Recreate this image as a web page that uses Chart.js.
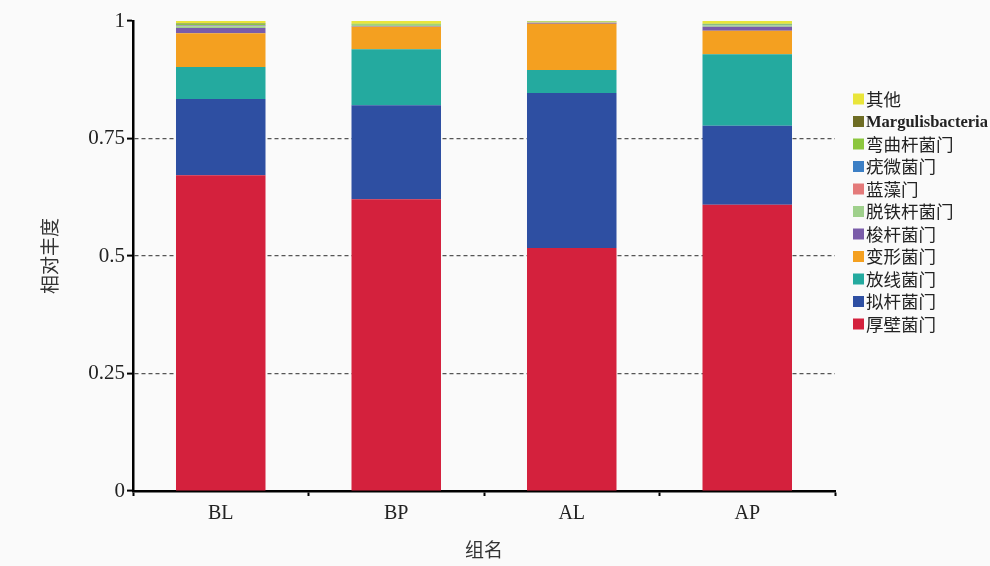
<!DOCTYPE html>
<html>
<head>
<meta charset="utf-8">
<script src="https://cdn.jsdelivr.net/npm/chart.js@4/dist/chart.umd.min.js"></script>
<style>
  html, body { margin: 0; padding: 0; background: #fafafa; }
  #wrap { width: 990px; height: 566px; position: relative; }
</style>
</head>
<body>
<div id="wrap"><canvas id="c" width="990" height="566"></canvas></div>
<script>
// Groups on the x axis
const groups = ['BL', 'BP', 'AL', 'AP'];

// Relative abundance of each phylum per group (stacked bottom to top)
const houbi      = [0.672, 0.621, 0.517, 0.609]; // 厚壁菌门
const nigan      = [0.162, 0.200, 0.330, 0.168]; // 拟杆菌门
const fangxian   = [0.068, 0.119, 0.049, 0.152]; // 放线菌门
const bianxing   = [0.072, 0.048, 0.098, 0.050]; // 变形菌门
const suogan     = [0.011, 0.001, 0.002, 0.009]; // 梭杆菌门
const tuotie     = [0.004, 0.003, 0.001, 0.003]; // 脱铁杆菌门
const lanzao     = [0.001, 0.000, 0.001, 0.000]; // 蓝藻门
const youwei     = [0.001, 0.000, 0.000, 0.001]; // 疣微菌门
const wanqu      = [0.003, 0.002, 0.001, 0.002]; // 弯曲杆菌门
const margulis   = [0.001, 0.000, 0.000, 0.000]; // Margulisbacteria
const qita       = [0.005, 0.006, 0.001, 0.006]; // 其他

// Y axis tick labels
const yTickLabels = { 0: '0', 0.25: '0.25', 0.5: '0.5', 0.75: '0.75', 1: '1' };

const series = [
  { label: '厚壁菌门', data: houbi,    color: '#d4213d' },
  { label: '拟杆菌门', data: nigan,    color: '#2e4fa2' },
  { label: '放线菌门', data: fangxian, color: '#24aa9f' },
  { label: '变形菌门', data: bianxing, color: '#f4a020' },
  { label: '梭杆菌门', data: suogan,   color: '#7a5ca9' },
  { label: '脱铁杆菌门', data: tuotie, color: '#9fd08c' },
  { label: '蓝藻门',   data: lanzao,   color: '#e47a7a' },
  { label: '疣微菌门', data: youwei,   color: '#3c7fc5' },
  { label: '弯曲杆菌门', data: wanqu,  color: '#8cc63e' },
  { label: 'Margulisbacteria', data: margulis, color: '#6e6d24' },
  { label: '其他',     data: qita,     color: '#e9e53a' }
];

const SERIF = '"Liberation Serif", "Noto Sans CJK SC", serif';
const CJK = '"Noto Sans CJK SC", "Liberation Serif", sans-serif';

// Legend on the right, listed top to bottom in reverse stacking order
const sideLegend = {
  id: 'sideLegend',
  afterDraw(chart) {
    const ctx = chart.ctx;
    const ds = chart.data.datasets;
    const x0 = 853, y0 = 99, step = 22.5, box = 11;
    ctx.save();
    ctx.textBaseline = 'middle';
    ctx.textAlign = 'left';
    for (let i = 0; i < ds.length; i++) {
      const d = ds[ds.length - 1 - i];
      const y = y0 + i * step;
      ctx.fillStyle = d.backgroundColor;
      ctx.fillRect(x0, y - box / 2, box, box);
      ctx.fillStyle = '#222';
      const latin = /^[A-Za-z]/.test(d.label);
      ctx.font = latin ? 'bold 16.5px ' + SERIF : '17.5px ' + CJK;
      ctx.fillText(d.label, x0 + 13, y + (latin ? 1 : 0));
    }
    ctx.restore();
  }
};

new Chart(document.getElementById('c'), {
  type: 'bar',
  data: {
    labels: groups,
    datasets: series.map(s => ({
      label: s.label,
      data: s.data,
      backgroundColor: s.color,
      borderWidth: 0,
      categoryPercentage: 1,
      barPercentage: 0.51
    }))
  },
  options: {
    responsive: false,
    animation: false,
    devicePixelRatio: 1,
    layout: { padding: { top: 21, right: 155, left: 0, bottom: 0 } },
    plugins: {
      legend: { display: false },
      tooltip: { enabled: false }
    },
    scales: {
      x: {
        stacked: true,
        afterFit(scale) { scale.height = 75; },
        grid: {
          offset: true,
          drawOnChartArea: false,
          drawTicks: true,
          tickLength: 5,
          tickColor: '#000',
          tickWidth: 2,
          color: '#000'
        },
        border: { display: true, color: '#000', width: 2.5 },
        ticks: {
          color: '#222',
          font: { family: SERIF, size: 20 },
          padding: 6
        },
        title: {
          display: true,
          text: '组名',
          color: '#333',
          font: { family: CJK, size: 19 },
          padding: { top: 0, bottom: 5 }
        }
      },
      y: {
        stacked: true,
        min: 0,
        max: 1,
        afterFit(scale) { scale.width = 133; },
        afterBuildTicks(scale) {
          scale.ticks = Object.keys(yTickLabels).map(v => ({ value: Number(v) }));
        },
        grid: {
          drawTicks: true,
          tickLength: 6,
          tickColor: '#000',
          tickWidth: 2,
          color: ctx => (ctx.tick && (ctx.tick.value === 0 || ctx.tick.value === 1)) ? 'rgba(0,0,0,0)' : '#555',
          lineWidth: 1.2
        },
        border: { display: true, color: '#000', width: 2.5, dash: [4, 3] },
        ticks: {
          color: '#222',
          font: { family: SERIF, size: 21 },
          padding: 2,
          callback: v => yTickLabels[v] !== undefined ? yTickLabels[v] : ''
        },
        title: {
          display: true,
          text: '相对丰度',
          color: '#333',
          font: { family: CJK, size: 19 },
          padding: { top: 38, bottom: 0 }
        }
      }
    }
  },
  plugins: [sideLegend]
});
</script>
</body>
</html>
